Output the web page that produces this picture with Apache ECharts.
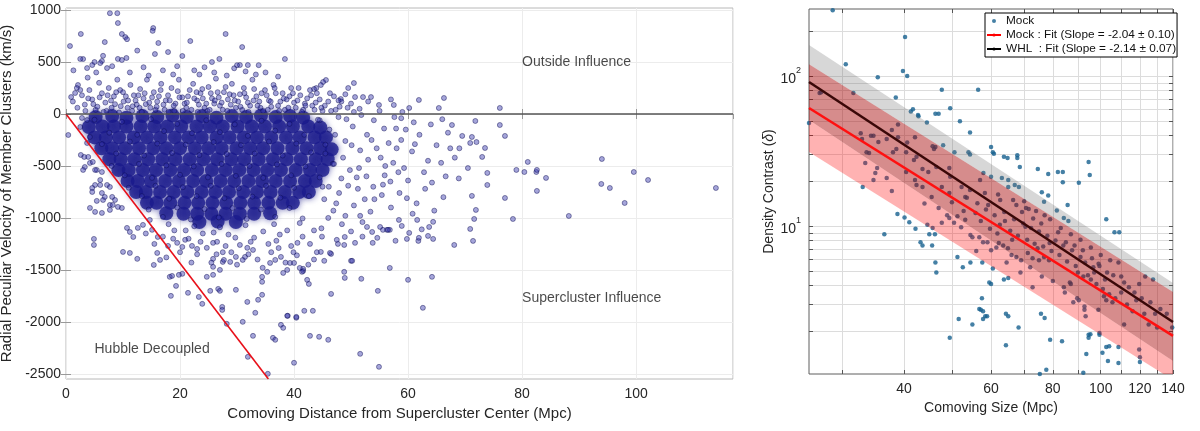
<!DOCTYPE html>
<html>
<head>
<meta charset="utf-8">
<script src="https://cdn.jsdelivr.net/npm/echarts@6/dist/echarts.min.js"></script>
<style>
html,body{margin:0;padding:0;background:#fff}
#chart{width:1200px;height:431px}
</style>
</head>
<body>
<div id="chart"></div>
<script>
// ---- left panel: member clusters, distance (Mpc) vs radial peculiar velocity (km/s)
const clusterSparse = [
  [7.7,970],[9.0,970],[9.1,875],[2.6,770],[0.7,654],[6.8,692],[9.8,770],[10.4,740],[10.7,720],[15.3,827],[15.2,800],
  [16.2,683],[15.6,577],[17.9,596],[21.8,702],[20.4,558],[28.0,770],[30.9,644],[38.4,529],[25.6,500],[3.0,529],[5.0,500],
  [6.3,510],[9.1,530],[10.6,539],[30.5,471],[31.9,471],[45.6,327],[45.1,308],[44.7,279],[43.9,250],[43.5,240],[49.5,250],
  [50.5,298],[48.2,144],[52.1,163],[53.5,163],[50.7,163],[54.9,87],[57.5,87],[60.2,58],[61.9,135],[65.4,58],[66.3,154],[76.1,58],
  [71.8,-67],[76.1,-106],[77.0,-211],[69.5,-211],[71.2,-221],[70.9,-279],[67.7,-106],[73.5,-327],[73.0,-413],[73.9,-567],
  [73.9,-683],[79.0,-538],[80.4,-558],[81.0,-461],[82.5,-558],[82.6,-538],[84.2,-615],[82.6,-740],[77.0,-808],[71.2,-788],
  [71.9,-923],[88.2,-981],[94.0,-433],[93.9,-673],[95.4,-712],[98.0,-856],[99.6,-558],[102.1,-635],[114.0,-712],[78.4,-1010],
  [71.6,-1010],[70.9,-1106],[71.4,-1221],[68.1,-1260],[64.4,-1038],[63.7,-1087],[64.4,-1202],[63.5,-1173],[61.6,-1019],
  [60.2,-1144],[59.8,-1202],[61.8,-1221],[61.9,-1192],[58.4,-1019],[58.9,-1077],[56.8,-1115],[54.6,-1192],[56.3,-1115],
  [64.2,-1567],[62.6,-1865],[60.0,-1596],[56.8,-1481],[54.7,-1702],[51.8,-1586],[50.0,-1413],[48.8,-1519],[48.9,-1577],
  [51.6,-2308],[54.9,-2433],[40.0,-2394],[46.5,-1731],[42.8,-2135],[44.4,-2144],[46.0,-2173],[41.8,-1894],[43.3,-1894],
  [38.9,-1942],[40.4,-1961],[42.3,-1596],[42.6,-1635],[41.6,-1510],[41.6,-1490],[46.5,-1346],[45.3,-1413],[46.3,-1337],
  [44.7,-1327],[50.2,-1413],[47.7,-1250],[48.8,-1260],[50.7,-1240],[47.5,-1211],[48.9,-1183],[52.8,-1087],[53.7,-1135],
  [55.1,-1087],[55.6,-1115],[56.5,-1115],[38.1,-1529],[38.8,-1500],[39.3,-1433],[40.0,-1433],[41.0,-1481],[41.4,-1519],
  [37.7,-2029],[4.9,-1202],[4.9,-1260],[10.0,-1327],[11.2,-1337],[12.5,-1394],[15.4,-1452],[18.4,-1750],[19.3,-1654],
  [18.2,-1567],[18.6,-1558],[20.4,-1538],[19.8,-1548],[21.4,-1721],[23.3,-1760],[23.9,-1827],[25.3,-1702],[26.7,-1683],
  [27.0,-1702],[27.4,-1856],[27.4,-1885],[28.2,-2019],[29.8,-1692],[24.7,-1567],[25.8,-1548],[25.8,-1471],[27.0,-1500],
  [27.5,-1423],[27.7,-1404],[25.8,-1394],[31.0,-2000],[31.9,-2337],[32.8,-2135],[31.8,-1808],[33.2,-1913],[35.4,-2500],
  [36.3,-2154],[36.7,-2173],[38.1,-2058],[38.8,-1942],[40.4,-1952],[33.7,-1788],[34.4,-1740],[34.4,-1615],[34.4,-1567],
  [35.3,-1519],[35.8,-1433],[36.7,-1404],[37.7,-1375],[28.8,-1423],[29.8,-1375],[31.0,-1404],[31.4,-1375],[31.8,-1288],
  [32.8,-1308],[22.1,-1269],[23.0,-1298],[24.7,-1288],[25.8,-1240],[19.5,-1240],[20.4,-1279],[20.9,-1211],[17.9,-1269],
  [15.1,-1115],[13.5,-1067],[12.6,-1096],[14.7,-1019],[16.1,-1183],[10.7,-1096],[11.2,-1135],[11.8,-1183],[16.0,-1337],
  [16.5,-1404],[0.4,-202],[0.9,163],[1.6,202],[2.1,279],[1.9,250],[2.5,231],[3.7,442],[4.6,471],[6.0,490],[7.2,442],
  [2.8,-38],[3.7,-58],[2.5,-125],[4.2,-221],[3.7,-279],[2.6,-394],[3.2,-413],[3.3,-510],[4.2,-471],[5.4,-538],[6.0,-635],
  [5.1,-683],[4.6,-712],[7.2,-683],[6.3,-760],[6.5,-827],[7.7,-875],[8.2,-875],[4.2,-904],[5.4,-836],[8.1,-798],[5.1,-942],
  [6.3,-952],[7.7,-923],[9.8,-904],[3.0,-538],[4.7,-461],[3.9,-413],[5.1,-538],[6.3,-558],[4.6,-750],[6.0,-683],[7.7,-702],
  [6.8,-798],[8.6,-827],[9.1,-894],[1.2,120],[2.0,60],[2.8,180],[3.3,90],[4.1,230],[4.6,140],[5.2,40],[5.8,300],[6.3,200],
  [6.9,110],[7.5,250],[8.0,60],[8.4,170],[9.0,330],[9.5,230],[10.1,120],[10.8,60],[11.3,280],[11.9,180],[12.4,90],[13.0,240],
  [13.6,150],[14.2,330],[14.8,60],[15.4,210],[16.0,120],[16.7,290],[17.3,40],[17.9,180],[18.5,250],[19.2,100],[19.8,330],
  [20.4,160],[21.1,60],[21.7,230],[22.3,290],[23.0,130],[23.6,200],[24.3,60],[25.0,260],[25.6,150],[26.3,340],[27.0,80],
  [27.7,210],[28.4,140],[29.1,290],[29.8,60],[30.5,190],[31.2,250],[31.9,110],[32.7,330],[33.4,170],[34.1,60],[34.9,230],
  [35.6,130],[36.4,280],[37.2,80],[38.0,200],[38.7,140],[39.5,250],[40.3,60],[41.1,180],[41.9,100],[42.8,230],[43.6,40],
  [44.5,140],[45.4,80],[46.3,200],[47.3,40],[48.3,120],[49.4,60],[50.5,20],[1.3,420],[2.5,530],[3.8,350],[5.3,400],
  [6.5,560],[8.1,460],[9.8,520],[11.2,400],[12.5,610],[13.6,450],[14.5,370],[17.0,420],[18.8,380],[19.5,460],[22.5,420],
  [23.4,380],[24.3,450],[26.0,400],[28.2,370],[29.5,440],[31.5,410],[33.3,380],[35.0,400],[37.2,360],[33.8,470],[30.0,470],
  [26.9,530],[44.5,-60],[46.2,-150],[47.8,-30],[49.0,-260],[50.3,-120],[51.6,-350],[52.8,-200],[54.0,-60],[55.2,-420],
  [56.6,-280],[57.9,-140],[59.3,-520],[60.7,-360],[62.0,-200],[63.5,-450],[65.0,-300],[66.6,-600],[68.2,-420],[46.8,-480],
  [48.3,-620],[49.8,-540],[51.2,-720],[52.7,-600],[54.1,-820],[55.6,-680],[57.0,-900],[58.5,-760],[60.0,-640],[61.5,-860],
  [63.0,-720],[64.6,-930],[66.2,-800],[47.4,-860],[49.0,-980],[50.5,-880],[52.0,-1040],[53.4,-940],[46.0,-1000],[44.8,-1100],
  [56.0,-500],[58.0,-330],[61.0,-80],[64.0,-100],[67.0,-180],[69.0,-330],[70.5,-520],[72.0,-270],[66.0,-50],[58.8,-40],
  [14.0,-1150],[17.0,-1180],[19.0,-1120],[21.5,-1200],[24.0,-1150],[26.5,-1230],[28.5,-1160],[30.5,-1260],[33.0,-1190],
  [35.5,-1250],[37.5,-1160],[39.5,-1270],[41.5,-1180],[43.5,-1120],[23.0,-1350],[27.5,-1330],[32.0,-1350],[36.0,-1330],
  [40.5,-1360],[44.0,-1330],[20.0,-1330],[25.5,-1430],[30.0,-1450],[34.5,-1480],[38.5,-1430],[42.5,-1450],[18.0,-1060],
  [22.5,-1080],[27.0,-1090],[31.5,-1070],[36.5,-1060],[41.0,-1050],
  [3.4,30],[4.8,95],[5.9,160],[7.1,30],[7.9,130],[8.8,210],[9.6,75],[10.5,170],[11.6,30],[12.2,130],[12.9,60],[13.8,200],
  [14.6,110],[15.7,40],[16.3,170],[17.1,90],[18.2,130],[19.0,30],[19.6,220],[20.8,100],[21.4,170],[22.0,40],[22.9,210],
  [23.3,90],[24.0,150],[24.8,30],[25.4,200],[26.0,100],[26.8,160],[27.5,40],[28.0,260],[28.9,90],[29.4,180],[30.2,120],
  [30.9,40],[31.6,160],[32.3,80],[33.0,240],[33.9,120],[34.6,30],[35.2,180],[36.0,70],[36.8,200],[37.6,120],[38.4,40],
  [39.2,170],[40.0,110],[40.8,250],[41.6,40],[42.3,150],[43.2,80],[44.0,200],[45.0,30],[46.0,120],[47.0,170],[48.0,70],
  [49.0,190],[50.0,100],[51.5,50],[53.0,120],[55.0,30],[57.0,140],[59.0,20],
  [3.9,150],[5.5,70],[6.6,20],[7.3,180],[8.6,95],[9.3,15],[10.0,210],[10.9,130],[11.7,75],[12.7,180],[13.3,20],[14.0,95],
  [15.1,160],[15.9,70],[16.6,230],[17.5,130],[18.0,20],[18.9,80],[19.9,160],[20.5,30],[21.2,110],[22.5,150],[23.1,20],
  [23.9,240],[24.6,100],[25.2,40],[26.1,130],[26.6,210],[27.3,110],[28.3,30],[28.7,190],[29.6,130],[30.6,70],[31.3,200],
  [32.0,20],[32.9,130],[33.6,80],[34.3,200],[35.4,40],[35.9,120],[36.6,250],[37.4,30],[38.2,150],[39.0,60],[39.8,200],
  [40.6,130],[41.4,20],[42.0,80],[43.0,180],[43.8,110],[44.8,60],[46.5,30],[47.8,130],
  [5.0,-55],[7.6,-180],[9.8,-75],[12.5,-200],[14.9,-50],[17.2,-165],[19.5,-95],[22.1,-185],[24.6,-60],[27.0,-175],
  [29.6,-100],[31.9,-210],[34.3,-65],[36.7,-160],[39.2,-95],[41.8,-200],[44.2,-55],[6.3,-290],[8.8,-380],[11.2,-265],
  [13.7,-400],[16.0,-285],[18.6,-375],[21.0,-295],[23.4,-395],[25.9,-270],[28.2,-385],[30.7,-300],[33.1,-380],[35.6,-265],
  [38.0,-400],[40.4,-285],[43.0,-370],[45.5,-295],[8.0,-500],[10.3,-590],[12.8,-480],[15.1,-615],[17.6,-495],[20.0,-585],
  [22.4,-505],[24.9,-610],[27.3,-480],[29.8,-595],[32.2,-500],[34.6,-615],[37.0,-485],[39.5,-590],[42.0,-505],[44.5,-610],
  [47.0,-480],[11.0,-710],[13.3,-790],[15.7,-690],[18.1,-815],[20.5,-705],[22.9,-790],[25.4,-690],[27.8,-810],[30.3,-715],
  [32.7,-795],[35.1,-690],[37.6,-805],[40.0,-710],[42.6,-790],[45.0,-700],[14.5,-920],[17.0,-990],[19.5,-900],[21.9,-1015],
  [24.3,-915],[26.8,-995],[29.2,-905],[31.7,-1010],[34.2,-920],[36.7,-990],[39.2,-905],[41.5,-1005],
  [45.5,-380],[47.2,-200],[48.6,-420],[50.1,-300],[51.4,-520],[53.0,-440],[54.5,-330],[55.9,-590],[57.4,-470],[58.8,-250],
  [46.1,-700],[47.9,-760],[49.5,-690],[51.0,-610],[52.4,-820],[53.9,-700],[55.4,-780],[56.9,-650],[58.3,-560],[59.8,-810],
  [45.3,-820],[46.9,-930],[48.4,-1060],[50.0,-1130],[51.6,-980],[49.2,-50],[51.8,-10],[53.6,-250],[55.8,-140],[57.6,-30],
  [59.6,-150],[61.2,-290],[62.8,-560],[64.2,-660],[65.8,-470],[67.4,-330],[68.9,-620],[60.8,-960],[62.4,-1110],[57.8,-1220],
  [53.8,-1240],[52.0,-1180],[15.5,-1250],[18.8,-1200],[21.0,-1120],[23.6,-1230],[25.9,-1140],[28.0,-1270],[29.7,-1190],
  [32.4,-1230],[34.6,-1130],[36.9,-1220],[38.8,-1120],[40.6,-1240],[42.8,-1250],[44.9,-1180],[17.6,-1380],[22.0,-1430],
  [26.4,-1350],[29.0,-1330],[33.6,-1400],[37.3,-1290],[39.9,-1330],[43.5,-1400]
];
// dense cloud, too packed to read one by one: estimated positions
const clusterCore = [
  [5.2,-30],[8.1,-20],[10.6,-35],[13.4,-20],[16.0,-30],[18.7,-15],[21.2,-30],[23.9,-20],[26.4,-35],[29.1,-20],
  [31.6,-30],[34.2,-15],[36.8,-30],[39.3,-20],[41.6,-35],
  [4.0,-125],[6.4,-120],[8.4,-120],[10.6,-120],[13.1,-120],[15.5,-120],[17.8,-120],[20.2,-120],[22.9,-120],[25.2,-120],
  [27.5,-120],[30.1,-120],[32.6,-120],[34.9,-120],[37.4,-120],[39.8,-120],[42.5,-120],[44.6,-130],
  [5.0,-225],[7.0,-225],[9.3,-225],[11.9,-225],[14.2,-225],[16.6,-225],[19.1,-225],[21.5,-225],[23.8,-225],[26.4,-225],
  [28.7,-225],[31.2,-225],[33.5,-225],[36.0,-225],[38.6,-225],[41.0,-225],[43.6,-225],[45.6,-225],
  [6.2,-330],[8.1,-330],[10.4,-330],[12.8,-330],[15.3,-330],[17.6,-330],[20.0,-330],[22.6,-330],[25.0,-330],[27.3,-330],
  [29.9,-330],[32.3,-330],[34.6,-330],[37.1,-330],[39.7,-330],[42.2,-330],[44.6,-330],[46.6,-340],
  [7.6,-435],[9.6,-435],[12.0,-435],[14.4,-435],[16.9,-435],[19.2,-435],[21.7,-435],[24.1,-435],[26.5,-435],[29.0,-435],
  [31.3,-435],[33.8,-435],[36.3,-435],[38.7,-435],[41.2,-435],[43.8,-435],[45.9,-435],
  [9.2,-540],[11.0,-540],[13.5,-540],[15.8,-540],[18.3,-540],[20.7,-540],[23.0,-540],[25.6,-540],[28.0,-540],[30.4,-540],
  [32.9,-540],[35.3,-540],[37.7,-540],[40.3,-540],[42.8,-540],[45.0,-540],
  [10.8,-645],[12.6,-645],[14.9,-645],[17.4,-645],[19.8,-645],[22.3,-645],[24.6,-645],[27.1,-645],[29.5,-645],[32.0,-645],
  [34.4,-645],[36.8,-645],[39.3,-645],[41.9,-645],[43.8,-645],
  [12.3,-750],[14.0,-750],[16.5,-750],[18.9,-750],[21.3,-750],[23.8,-750],[26.2,-750],[28.6,-750],[31.1,-750],[33.5,-750],
  [35.9,-750],[38.4,-750],[40.9,-750],[42.6,-750],
  [14.2,-855],[15.9,-855],[18.3,-855],[20.8,-855],[23.2,-855],[25.7,-855],[28.1,-855],[30.6,-855],[33.0,-855],[35.5,-855],
  [38.0,-855],[39.8,-855],
  [17.6,-955],[20.6,-960],[23.0,-960],[25.5,-960],[28.0,-960],[30.5,-960],[33.0,-960],[35.8,-955],
  [23.4,-1040],[26.6,-1035],[29.8,-1040]
];
const hubbleLine = [[0, 0], [35.5, -2550]];
const regionNames = ['Outside Influence', 'Supercluster Influence', 'Hubble Decoupled'];
const regionPos = [[80, 500], [80, -1770], [5, -2260]];
const velTicks = [-2500, -2000, -1500, -1000, -500, 0, 500, 1000];

// ---- right panel: comoving size (Mpc) vs density contrast
const mockPoints = [
  [25.7,48.7],[27,77],[27.2,78],[28.7,275],[30.5,120],[31.6,77],[32.7,41.6],[32.9,38],[33.4,26.3],[33.6,31],[34,30.7],
  [34.3,40],[34.7,40],[34.7,20.3],[35,22.6],[35.3,24.4],[35.4,98],[35.5,36.3],[33,18.2],[36.5,8.8],[36.9,38],[36.9,20.9],
  [37.8,43.7],[37.8,17.1],[38,31],[38.5,72],[38.6,32.6],[38.8,12],[38.9,47.6],[38.9,39],[39.8,108],[40.1,11.4],[40.2,182],
  [40.4,31],[40.4,22.9],[40.6,100],[40.6,36],[41,10.6],[41.3,58],[41.7,60],[41.9,27.5],[42.1,39],[42.1,20.3],[42.2,9.6],
  [42.4,29],[42.4,18.8],[42.7,55],[42.8,54],[43.2,7.8],[43.6,7.4],[43.6,24],[43.6,18.2],[44.5,49],[44.6,10.2],[44.8,22.9],
  [45,8.8],[45.5,15.6],[45.6,7.4],[45.7,34],[45.7,9.7],[46,32.6],[46.2,8.8],[46.3,56],[46.3,33.6],[46.3,5.7],[46.5,24.7],
  [46.5,4.9],[47,56],[47.7,81],[47.7,18.2],[47.7,10.5],[48,34.6],[48.9,11.8],[49.4,24.4],[49.4,16.6],[49.4,11.3],[49.5,1.8],
  [49.6,61],[49.6,21.3],[50.5,10.5],[50.6,31],[51.3,6.2],[51.3,11.6],[51.6,2.4],[51.9,50],[52.2,9.8],[52.3,18.2],[52.6,5.3],
  [53.2,15.6],[53.2,11],[53.6,15.4],[54,31],[54.4,30],[54.4,42],[54.4,17.4],[54.5,5.7],[54.5,8.7],[55,2.2],[55,8.4],
  [56.5,81],[56.8,8.4],[56.8,2.8],[57,20.3],[57.2,2.76],[57.5,3.3],[57.6,5.7],[57.8,7.8],[57.8,2.7],[57.8,2.4],[57.9,22.6],
  [58.3,16.6],[58.4,2.5],[58.9,2.5],[59,7.8],[59.5,4.2],[60,33.6],[60,21.3],[60,6.9],[60,4.1],[60.5,31],[60.8,30.3],
  [61.5,7.2],[62.2,7.7],[62.6,14.9],[63.1,20.9],[63.5,7.4],[63.7,29],[63.7,4.4],[64.3,2.6],[64.3,1.6],[64.8,28.4],[64.9,7.1],
  [65,20.3],[65,18.2],[65,4.5],[65,2.5],[66,6.4],[67,18.8],[67.5,13.8],[67.5,6.2],[67.8,29.6],[67.8,28.4],[68.2,2.1],
  [68.3,18.2],[68.6,24.7],[69,5.9],[69.3,12.4],[70.6,13.2],[71.2,6.6],[72.8,6.1],[72.8,3.9],[74.5,7.1],[74.6,24],[75,5.9],
  [75.3,1.03],[75.7,2.6],[76,16.8],[76.8,14.5],[76.8,6.2],[77,2.43],[77.6,1.1],[78.3,22.2],[78.3,16],[78.6,5.9],[79,1.74],
  [81.9,22.9],[83.5,1.7],[83.8,22.9],[83.8,19.6],[84.2,11.3],[84.2,3.9],[85.7,13.8],[86.6,4.2],[87,4.1],[89.6,3.3],[89.9,4.9],
  [90.3,19.4],[90.3,3.2],[92.2,1.05],[92.2,4.6],[92.7,2.9],[92.7,2.76],[93.2,2.5],[93.5,1.4],[94.2,4.7],[94.5,26.7],[94.5,1.8],
  [94.5,1.88],[95,21.9],[95.3,1.9],[96.6,5.3],[97,4.9],[98.9,2.76],[99.4,1.93],[99.4,1.88],[99.4,5.4],[100.8,1.43],[101.5,3.4],
  [102,4.4],[102.6,11.1],[102.6,1.56],[102.6,3.2],[103.4,1.26],[104,1.58],[105.6,3.1],[106.6,9.1],[108.6,5.7],[108.6,1.22],
  [108.6,1.56],[109,9.1],[111.5,4.2],[111.5,2.2],[119.6,4.1],[119.6,1.5],[120,1.33],[120,1.24],[122.5,2.6],[123,4.6],
  [127.6,4.4],[128.8,2.6],[139.5,2.1],[55.8,12.2],[57.2,10.8],[58.6,12.9],[59.7,9.6],[61,11.8],[62.5,10.2],[63.8,12.4],
  [65.6,9.3],[66.8,11.1],[68,8.6],[69.7,10.4],[71,8.1],[72.3,9.7],[73.5,7.6],[75,9.2],[76.5,7.3],[78,8.6],[79.5,6.8],[81,8],
  [82.5,6.4],[84,7.4],[85.5,5.8],[87.5,6.9],[89,5.4],[91,6.2],[93,5.7],[95.5,4.4],[98,4.1],[101,3.8],[104,3.5],[107,3.3],
  [110,3.6],[113,3.0],[116,2.7],[118,3.2],[125,2.2],[130,2.1],[56,6.8],[60.5,5.2],[64.5,5.7],[68.8,4.9],[72,5.3],[76,4.6],
  [80,4.3],[84.6,3.6],[88,3.1],[70,14.6],[74,12.6],[79,11.1],[83,9.7],[87,8.8],[91,8.1],[95.5,7.2],[100,6.4],[104.5,5.9],
  [62,16.2],[66.5,14.9],[71.5,13],[77,11.8],[81.5,12.7],[86,10.8],
  [44,14.1],[47,13.2],[50,14.4],[52.8,12.6],[56.3,14.2],[59.2,13.8],[61.8,8.9],[64,10.8],[66.2,8.1],[70.4,9.9],[73,11.2],
  [75.8,10.4],[78.8,7.7],[82,9.1],[85,7.8],[88.5,7.4],[92,6.9],[96,6.1],[99,5.6],[103,4.9],[106,4.7],[110,4.6],[114,3.9],
  [117,3.6],[121,3.3],[126,3.1],[132,2.8],[136,2.6]
];
const fitX = [25.7, 140];
const mockFit = [61.2, 1.85];
const whlFit = [91.2, 2.29];
const whlBandHi = [161, 4.17];
const whlBandLo = [50.9, 1.26];
const mockBandHi = [120, 3.63];
const mockBandLo = [31.1, 0.94];
const sizeLabels = [40, 60, 80, 100, 120, 140];
const sizeGrid = [30, 40, 50, 60, 70, 80, 90, 100, 110, 120, 130, 140];
const deltaLabels = [10, 100];
const deltaGrid = [2, 3, 4, 5, 6, 7, 8, 9, 10, 20, 30, 40, 50, 60, 70, 80, 90, 100, 200];

const FONT = 'Liberation Sans, Arial, sans-serif';
const TXT = '#262626';
const mockName = 'Mock';
const mockFitName = 'Mock : Fit (Slope = -2.04 \u00b1 0.10)';
const whlFitName = 'WHL  : Fit (Slope = -2.14 \u00b1 0.07)';

function band(lo, hi, color) {
  return {
    type: 'custom', xAxisIndex: 1, yAxisIndex: 1, clip: true, silent: true, z: 4,
    data: [[fitX[0], hi[0]]],
    renderItem: (params, api) => {
      const pts = fitX.map((x, i) => api.coord([x, hi[i]]));
      for (let i = fitX.length - 1; i >= 0; i--) pts.push(api.coord([fitX[i], lo[i]]));
      return { type: 'polygon', shape: { points: pts }, style: { fill: color } };
    }
  };
}

const chart = echarts.init(document.getElementById('chart'));
chart.setOption({
  backgroundColor: '#fff',
  animation: false,
  textStyle: { fontFamily: FONT },
  grid: [
    { left: 66, top: 8, width: 667, height: 371, show: true, borderColor: '#b8b8b8', borderWidth: 1, outerBoundsMode: 'none' },
    { left: 809, top: 9, width: 364, height: 365, show: true, borderColor: '#5e5e5e', borderWidth: 1, outerBoundsMode: 'none' }
  ],
  xAxis: [
    {
      type: 'value', gridIndex: 0, min: 0, max: 117, interval: 20,
      name: 'Comoving Distance from Supercluster Center (Mpc)', nameLocation: 'middle', nameGap: 24,
      nameTextStyle: { fontSize: 15, color: TXT },
      axisLine: { show: false },
      axisTick: { inside: true, length: 5, lineStyle: { color: '#999' } },
      axisLabel: { fontSize: 14, color: TXT, margin: 8, showMaxLabel: false },
      splitLine: { lineStyle: { color: '#ececec' } }
    },
    {
      type: 'log', gridIndex: 1, logBase: 10, min: 25.7, max: 140,
      name: 'Comoving Size (Mpc)', nameLocation: 'middle', nameGap: 25,
      nameTextStyle: { fontSize: 14, color: TXT },
      axisLine: { show: false },
      axisTick: { inside: true, length: 4, customValues: sizeGrid, lineStyle: { color: '#555' } },
      axisLabel: { fontSize: 14, color: TXT, margin: 8, customValues: sizeLabels },
      splitLine: { lineStyle: { color: '#dcdcdc' } }
    },
    {
      type: 'value', gridIndex: 0, position: 'top', min: 0, max: 117, interval: 20,
      axisLine: { show: false }, axisLabel: { show: false }, splitLine: { show: false },
      axisTick: { inside: true, length: 5, lineStyle: { color: '#999' } }
    },
    {
      type: 'log', gridIndex: 1, position: 'top', min: 25.7, max: 140,
      axisLine: { show: false }, axisLabel: { show: false }, splitLine: { show: false },
      axisTick: { inside: true, length: 4, customValues: sizeGrid, lineStyle: { color: '#555' } }
    }
  ],
  yAxis: [
    {
      type: 'value', gridIndex: 0, min: -2550, max: 1020,
      name: 'Radial Peculiar Velocity of Member Clusters (km/s)', nameLocation: 'middle', nameGap: 42,
      nameTextStyle: { fontSize: 15, color: TXT },
      axisLine: { show: false },
      axisTick: { inside: true, length: 5, customValues: velTicks, lineStyle: { color: '#999' } },
      axisLabel: { fontSize: 14, color: TXT, margin: 5, customValues: velTicks, formatter: v => String(v) },
      splitLine: { lineStyle: { color: '#ececec' } }
    },
    {
      type: 'log', gridIndex: 1, logBase: 10, min: 1.03, max: 280,
      name: 'Density Contrast ({i|\u03b4})', nameLocation: 'middle', nameGap: 28,
      nameTextStyle: { fontSize: 14, color: TXT, rich: { i: { fontSize: 14, fontStyle: 'italic', color: TXT } } },
      axisLine: { show: false },
      axisTick: { inside: true, length: 4, customValues: deltaGrid, lineStyle: { color: '#555' } },
      axisLabel: {
        customValues: deltaLabels, margin: 8, color: TXT,
        formatter: v => '{b|10}{s|' + Math.round(Math.log10(v)) + '}',
        rich: {
          b: { fontSize: 14, color: TXT, lineHeight: 20, verticalAlign: 'bottom' },
          s: { fontSize: 9, color: TXT, lineHeight: 20, verticalAlign: 'top', padding: [0, 0, 6, 0] }
        }
      },
      splitLine: { lineStyle: { color: '#dcdcdc' } }
    },
    {
      type: 'value', gridIndex: 0, position: 'right', min: -2550, max: 1020,
      axisLine: { show: false }, axisLabel: { show: false }, splitLine: { show: false },
      axisTick: { inside: true, length: 5, customValues: velTicks, lineStyle: { color: '#999' } }
    },
    {
      type: 'log', gridIndex: 1, position: 'right', min: 1.03, max: 280,
      axisLine: { show: false }, axisLabel: { show: false }, splitLine: { show: false },
      axisTick: { inside: true, length: 4, customValues: deltaGrid, lineStyle: { color: '#555' } }
    }
  ],
  legend: {
    left: 985, top: 13, orient: 'vertical', itemGap: 0, itemWidth: 14, itemHeight: 4,
    padding: [1, 1, 1, 1], borderColor: '#000', borderWidth: 1, backgroundColor: '#fff',
    textStyle: { fontSize: 11.8, color: '#111', lineHeight: 14 },
    data: [
      { name: mockName, icon: 'circle' },
      { name: mockFitName, lineStyle: { color: '#ff0000' } },
      { name: whlFitName, itemStyle: { color: '#000' }, lineStyle: { color: '#000' } }
    ]
  },
  series: [
    {
      type: 'scatter', xAxisIndex: 0, yAxisIndex: 0, data: clusterCore, symbolSize: 14, silent: true,
      itemStyle: { color: 'rgb(26,26,140)', shadowBlur: 6, shadowColor: 'rgba(26,26,140,0.8)' }
    },
    {
      type: 'scatter', xAxisIndex: 0, yAxisIndex: 0, data: clusterSparse, symbolSize: 5, silent: true,
      itemStyle: { color: 'rgba(50,50,170,0.55)', borderColor: 'rgba(10,10,80,0.8)', borderWidth: 0.7 },
      markLine: {
        silent: true, symbol: 'none', label: { show: false },
        lineStyle: { color: '#555', width: 1.5, type: 'solid' },
        data: [{ yAxis: 0 }]
      }
    },
    {
      type: 'line', xAxisIndex: 0, yAxisIndex: 0, data: hubbleLine, symbol: 'none', silent: true,
      lineStyle: { color: '#e8101a', width: 1.6 }
    },
    {
      type: 'scatter', xAxisIndex: 0, yAxisIndex: 0, symbolSize: 0, silent: true,
      data: regionNames.map((n, i) => ({ name: n, value: regionPos[i] })),
      label: { show: true, position: 'right', distance: 0, formatter: '{b}', fontSize: 14, color: '#1a1a1a' }
    },
    {
      name: mockName, type: 'scatter', xAxisIndex: 1, yAxisIndex: 1, data: mockPoints, symbolSize: 4.5,
      silent: true, z: 2, itemStyle: { color: '#17608f' }
    },
    band(mockBandHi, whlBandHi, 'rgba(110,110,110,0.28)'),
    band(whlBandLo, mockBandHi, 'rgba(165,0,0,0.45)'),
    band(mockBandLo, whlBandLo, 'rgba(255,0,0,0.3)'),
    {
      name: mockFitName, type: 'line', xAxisIndex: 1, yAxisIndex: 1, symbol: 'none', silent: true, z: 5,
      data: fitX.map((x, i) => [x, mockFit[i]]), lineStyle: { color: '#ff1010', width: 2.5 }, itemStyle: { color: '#ff0000' }
    },
    {
      name: whlFitName, type: 'line', xAxisIndex: 1, yAxisIndex: 1, symbol: 'none', silent: true, z: 5,
      data: fitX.map((x, i) => [x, whlFit[i]]), lineStyle: { color: '#3a0808', width: 2.5 }, itemStyle: { color: '#3a0808' }
    }
  ]
});
</script>
</body>
</html>
